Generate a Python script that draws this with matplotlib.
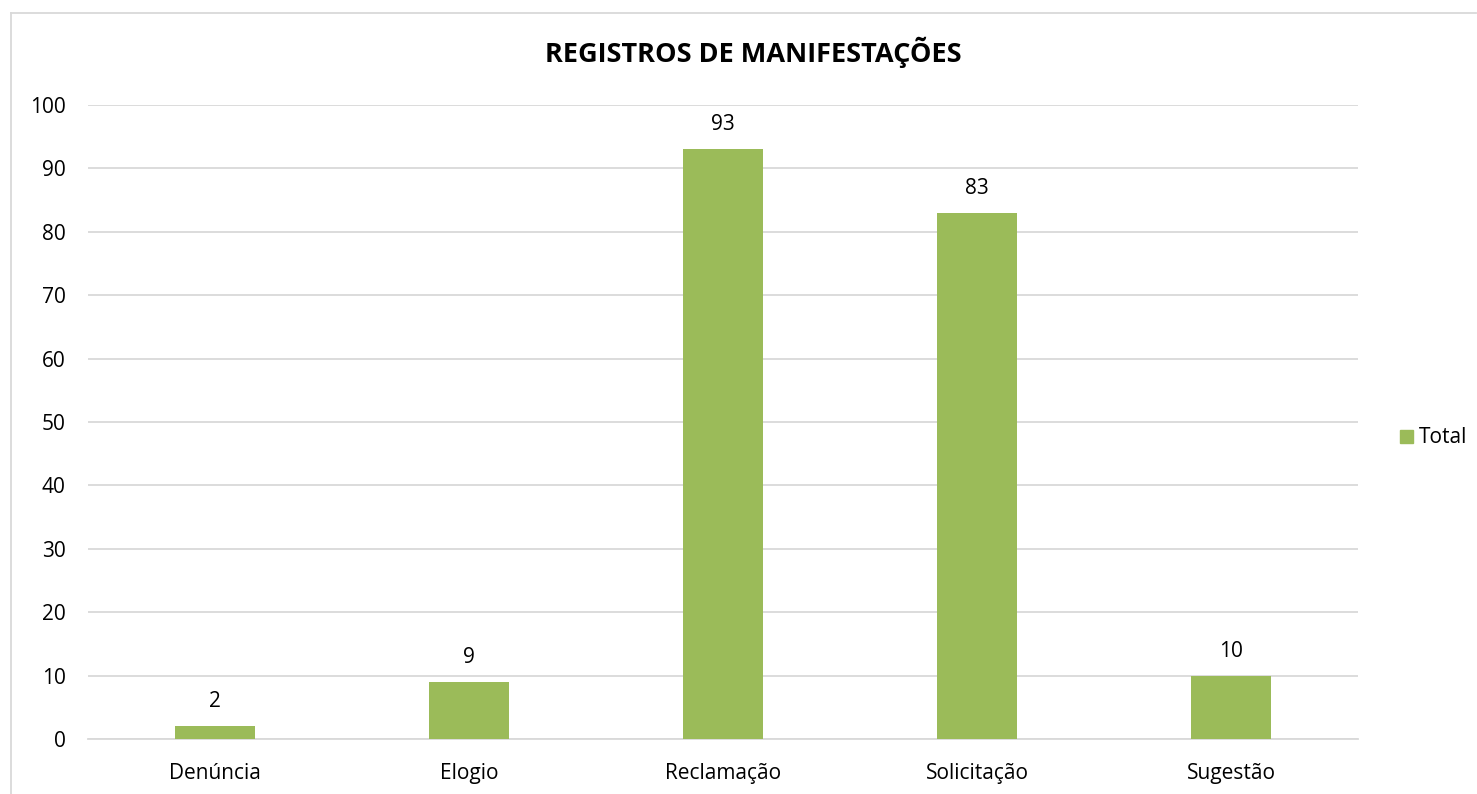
import matplotlib
matplotlib.use("Agg")
import matplotlib.pyplot as plt
from matplotlib.lines import Line2D

categories = ["Denúncia", "Elogio", "Reclamação", "Solicitação", "Sugestão"]
values = [2, 9, 93, 83, 10]
yticks = [0, 10, 20, 30, 40, 50, 60, 70, 80, 90, 100]
title = "REGISTROS DE MANIFESTAÇÕES"
series_name = "Total"

plt.rcParams['font.family'] = ['Open Sans', 'DejaVu Sans']

W, H = 1477, 794
fig = plt.figure(figsize=(W / 100, H / 100), dpi=100)
fig.patch.set_facecolor("white")

ax = fig.add_axes([88 / W, 1 - 739 / H, (1358 - 88) / W, (739 - 105) / H])
x = list(range(len(categories)))
bars = ax.bar(x, values, width=0.315, color="#9BBB59", zorder=3, label=series_name)
ax.set_xlim(-0.5, len(categories) - 0.5)
ax.set_ylim(0, 100)
ax.set_yticks(yticks)
ax.set_xticks(x)
ax.set_xticklabels(categories, fontsize=15)
ax.tick_params(axis="y", labelsize=15, length=0, pad=16)
ax.tick_params(axis="x", length=0, pad=17)
ax.grid(axis="y", color="#D9D9D9", linewidth=1.3, zorder=0)
for s in ["top", "right", "left"]:
    ax.spines[s].set_visible(False)
ax.spines["bottom"].set_color("#D9D9D9")
ax.spines["bottom"].set_linewidth(1.3)

for xi, v in zip(x, values):
    ax.annotate(str(v), (xi, v), xytext=(0, 10), textcoords="offset points",
                ha="center", va="bottom", fontsize=15)

fig.text(753.5 / W, 1 - 52 / H, title, ha="center", va="center",
         fontsize=19.5, fontweight="bold")

leg = fig.legend(handles=[plt.Rectangle((0, 0), 1, 1, color="#9BBB59")], labels=[series_name],
                 loc="center left", bbox_to_anchor=(1400 / W, 1 - 438 / H), frameon=False,
                 fontsize=15, handlelength=0.6, handleheight=0.6, handletextpad=0.3,
                 borderaxespad=0, borderpad=0)

# chart area border
fig.add_artist(Line2D([11 / W, 1476 / W], [1 - 12.5 / H, 1 - 12.5 / H], color="#D9D9D9", linewidth=1.3))
fig.add_artist(Line2D([11 / W, 11 / W], [1 - 12.5 / H, 0], color="#D9D9D9", linewidth=1.3))

fig.savefig("out.png", dpi=100)
